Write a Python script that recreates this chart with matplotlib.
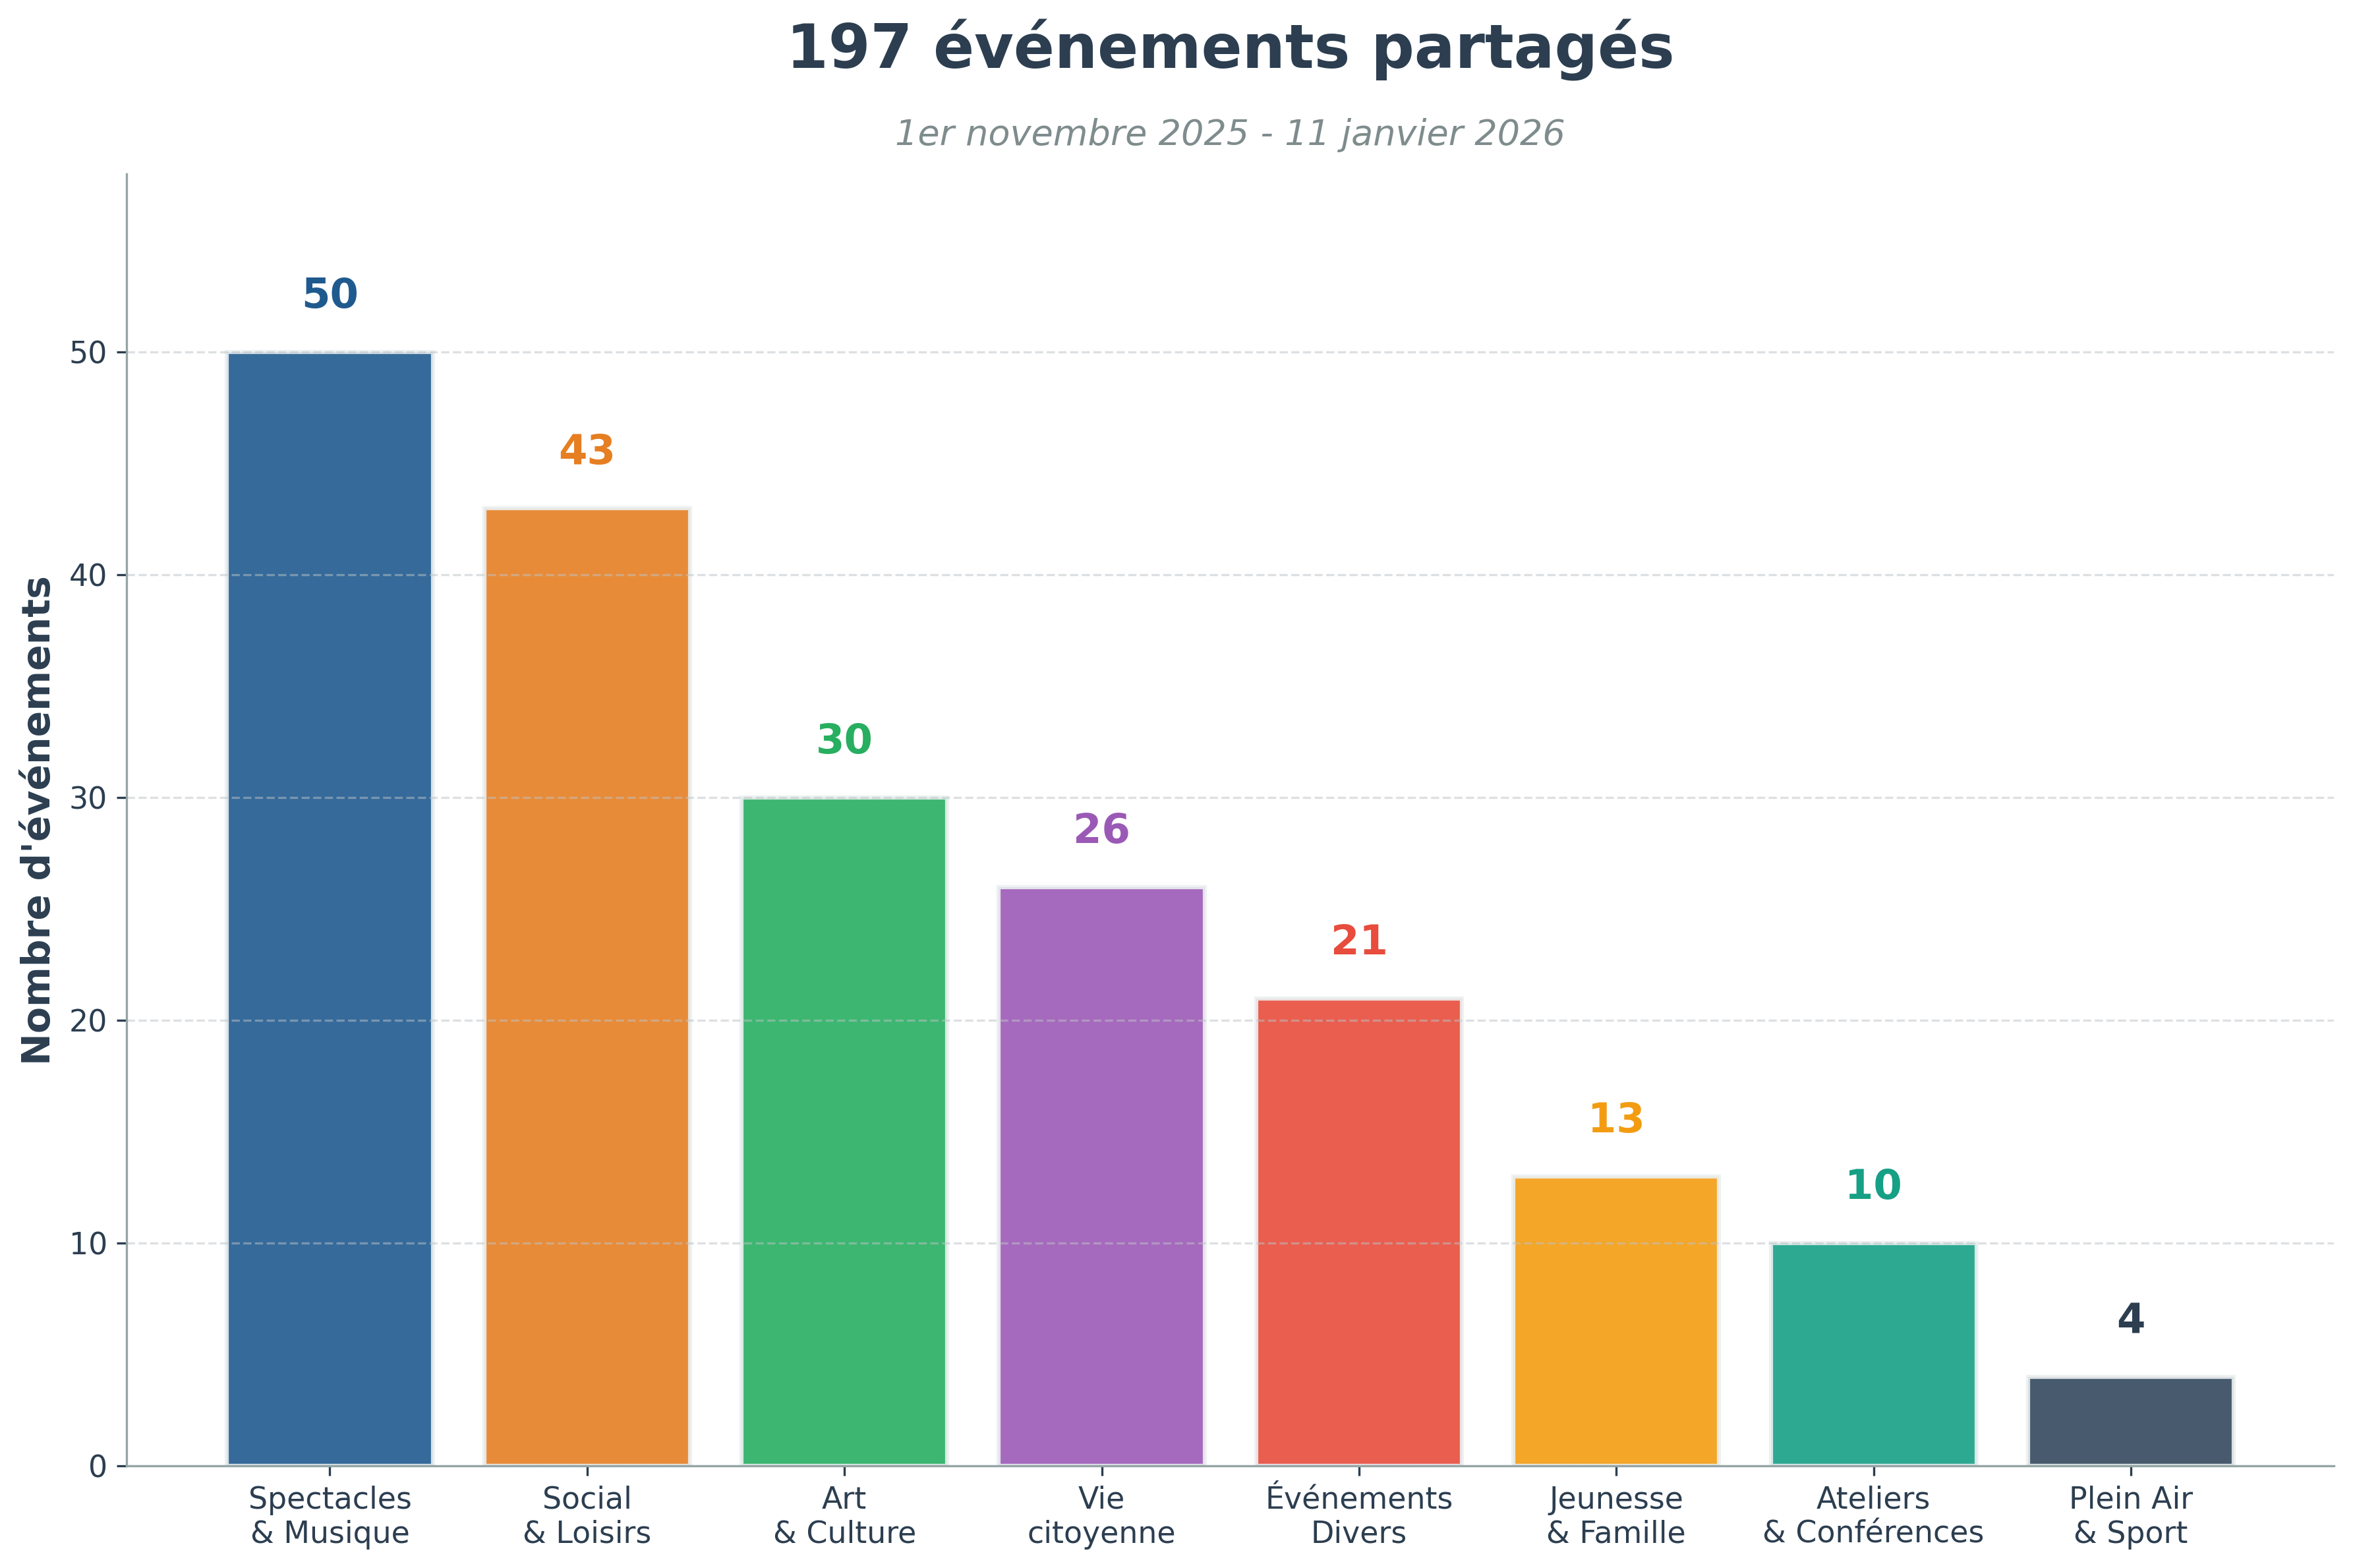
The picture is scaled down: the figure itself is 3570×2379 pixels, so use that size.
#!/usr/bin/env python3
"""Bar chart: events shared per category."""

import matplotlib
matplotlib.use("Agg")
import matplotlib.pyplot as plt

# Data
categories = [
    "Spectacles\n& Musique",
    "Social\n& Loisirs",
    "Art\n& Culture",
    "Vie\ncitoyenne",
    "Événements\nDivers",
    "Jeunesse\n& Famille",
    "Ateliers\n& Conférences",
    "Plein Air\n& Sport",
]
counts = [50, 43, 30, 26, 21, 13, 10, 4]
colors = ["#1f5a8f", "#e67e22", "#27ae60", "#9b59b6",
          "#e74c3c", "#f39c12", "#16a085", "#34495e"]
label_colors = ["#1f5a8f", "#e67e22", "#27ae60", "#9b59b6",
                "#e74c3c", "#f39c12", "#16a085", "#2c3e50"]

title = "197 événements partagés"
subtitle = "1er novembre 2025 - 11 janvier 2026"
ylabel = "Nombre d'événements"

dark = "#2c3e50"
grey = "#7f8c8d"
spine_col = "#95a5a6"

fig, ax = plt.subplots(figsize=(11.9, 7.93), dpi=300)
left, right = 0.0538, 0.992
fig.subplots_adjust(left=left, right=right, top=0.889, bottom=0.065)

x = range(len(categories))
ax.bar(x, counts, width=0.8, color=colors, alpha=0.9,
       edgecolor="#ecf0f1", linewidth=1.5)

# Value labels
for i, v in enumerate(counts):
    ax.text(i, v + 1.6, str(v), ha="center", va="bottom",
            fontsize=15, fontweight="bold", color=label_colors[i])

ax.set_xticks(list(x))
ax.set_xticklabels(categories, fontsize=11, color=dark)
ax.tick_params(axis="y", labelsize=11, labelcolor=dark, color=dark)
ax.tick_params(axis="x", color=dark)
ax.set_ylim(0, 58)
ax.set_ylabel(ylabel, fontsize=14, fontweight="bold", color=dark)

ax.grid(True, axis="y", linestyle="--", alpha=0.5, color="#bdc3c7")
for s in ["top", "right"]:
    ax.spines[s].set_visible(False)
for s in ["left", "bottom"]:
    ax.spines[s].set_color(spine_col)

xc = (left + right) / 2
fig.text(xc, 0.968, title, ha="center", va="center",
         fontsize=22, fontweight="bold", color=dark)
fig.text(xc, 0.914, subtitle, ha="center", va="center",
         fontsize=13, style="italic", color=grey)

plt.savefig("out.png", dpi=300)
plt.close()
